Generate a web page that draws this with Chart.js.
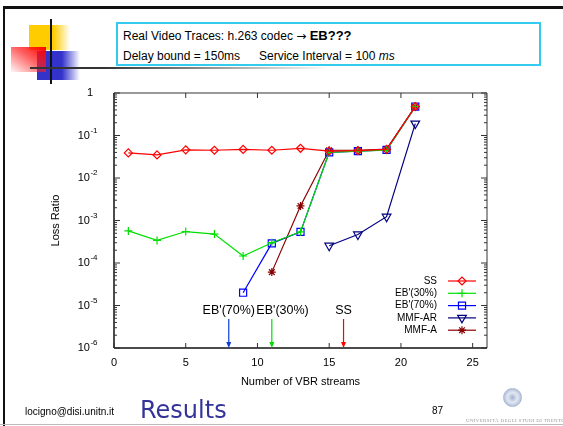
<!DOCTYPE html>
<html>
<head>
<meta charset="utf-8">
<script src="https://cdn.jsdelivr.net/npm/chart.js@4.4.1/dist/chart.umd.min.js"></script>
<style>
  body { margin: 0; background: #fff; }
  #slide { position: relative; width: 563px; height: 426px; overflow: hidden; font-family: "Liberation Sans", Arial, sans-serif; }
  #myChart { position: absolute; left: 0; top: 0; }
  .abs { position: absolute; }
  .txt { position: absolute; white-space: nowrap; color: #000; }
</style>
</head>
<body>
<div id="slide">
  <canvas id="myChart" width="563" height="426"></canvas>

  <!-- slide decoration -->
  <div class="abs" style="left:3px;top:6px;width:560px;height:3px;background:#111"></div>
  <div class="abs" style="left:3px;top:6px;width:2px;height:420px;background:#111"></div>
  <div class="abs" style="left:0;top:424px;width:563px;height:1px;background:#bbb"></div>
  <div class="abs" style="left:29px;top:25px;width:41px;height:25px;background:linear-gradient(to right,#ffcc00 0%,#ffcc00 60%,rgba(255,204,0,0) 100%)"></div>
  <div class="abs" style="left:37px;top:51px;width:43px;height:29px;background:linear-gradient(to right,#3333cc 0%,#3333cc 58%,rgba(51,51,204,0) 100%)"></div>
  <div class="abs" style="left:11px;top:47px;width:35px;height:25px;background:linear-gradient(to top right,rgba(255,0,0,0.03) 0%,rgba(255,30,30,0.7) 55%,#ff0000 100%)"></div>
  <div class="abs" style="left:50px;top:19px;width:2px;height:65px;background:#111"></div>
  <div class="abs" style="left:30px;top:67px;width:300px;height:2px;background:linear-gradient(to right,#333 0%,#333 25%,rgba(0,0,0,0) 100%)"></div>

  <!-- title box -->
  <div class="abs" style="left:116px;top:22px;width:425px;height:44px;box-sizing:border-box;border:2px solid #33ccee;background:#fff"></div>
  <div class="txt" style="left:123px;top:29px;font-size:12px;line-height:14px">Real Video Traces: h.263 codec <span style="font-family:'DejaVu Sans',sans-serif;font-size:12px">&rarr;</span> <b style="font-size:13px">EB???</b></div>
  <div class="txt" style="left:123px;top:49px;font-size:12px;line-height:14px">Delay bound = 150ms</div>
  <div class="txt" style="left:259px;top:49px;font-size:12px;line-height:14px">Service Interval = 100 <i>ms</i></div>

  <!-- footer -->
  <div class="txt" style="left:25px;top:406px;font-size:10px;line-height:11px">locigno@disi.unitn.it</div>
  <div class="txt" style="left:140px;top:398px;font-family:'DejaVu Sans',sans-serif;font-size:24px;line-height:24px;color:#333399">Results</div>
  <div class="txt" style="left:432px;top:405px;font-size:10px;line-height:11px">87</div>
  <div class="abs" style="left:503px;top:388px;width:19px;height:19px;box-sizing:border-box;border-radius:50%;border:1.5px solid #a6b5d2;background:radial-gradient(circle,#9fb0d0 0%,#e3e8f2 40%,#b8c5de 70%,#eef1f7 100%)"></div>
  <div class="txt" style="left:466px;top:418px;font-family:'Liberation Serif',serif;font-size:5px;line-height:6px;color:#999;letter-spacing:0.3px">UNIVERSITÀ DEGLI STUDI DI TRENTO</div>
</div>

<script>
// number of VBR streams (x)
var streams = [1, 3, 5, 7, 9, 11, 13, 15, 17, 19, 21];
// loss ratio per series, null = not measured
var ss    = [0.039, 0.035, 0.046, 0.045, 0.047, 0.045, 0.050, 0.043, 0.044, 0.047, 0.48];
var eb30  = [5.7e-4, 3.4e-4, 5.5e-4, 4.8e-4, 1.46e-4, 3.0e-4, 5.4e-4, 0.040, 0.043, 0.045, 0.48];
var eb70  = [null, null, null, null, 2.0e-5, 2.9e-4, 5.4e-4, 0.040, 0.043, 0.046, 0.48];
var mmfar = [null, null, null, null, null, null, null, 2.55e-4, 4.7e-4, 1.23e-3, 0.19];
var mmfa  = [null, null, null, null, null, 6.1e-5, 2.2e-3, 0.045, 0.045, 0.048, 0.48];

var xTicks = [0, 5, 10, 15, 20, 25];
var yExps = [-6, -5, -4, -3, -2, -1, 0];

// admission limits marked with arrows
var limitLabels = ["EB'(70%)", "EB'(30%)", "SS"];
var limitStreams = [8, 11, 16];
var limitLabelAt = [8, 11.75, 16];
var limitColors = ['#0a3cd8', '#00dd00', '#ff0000'];

function pts(vals) {
  var out = [];
  vals.forEach(function (v, i) { if (v !== null) out.push({ x: streams[i], y: v }); });
  return out;
}

function series(label, vals, color, style, radius, rot) {
  return {
    label: label,
    data: pts(vals),
    borderColor: color,
    backgroundColor: color,
    pointBackgroundColor: 'rgba(0,0,0,0)',
    pointBorderColor: color,
    pointStyle: style,
    pointRadius: radius,
    pointRotation: rot || 0,
    pointBorderWidth: 1.2,
    borderWidth: 1.2,
    tension: 0
  };
}

var datasets = [
  series('SS', ss, '#ff0000', 'rectRot', 4),
  series("EB'(30%)", eb30, '#00e000', 'cross', 4),
  series("EB'(70%)", eb70, '#0000ff', 'rect', 5),
  series('MMF-AR', mmfar, '#000080', 'triangle', 5, 180),
  series('MMF-A', mmfa, '#8b0000', 'star', 4)
];

var decor = {
  id: 'decor',
  afterDatasetsDraw: function (chart) {
    var ctx = chart.ctx, a = chart.chartArea, x = chart.scales.x, y = chart.scales.y;
    ctx.save();
    function seg(x1, y1, x2, y2) { ctx.beginPath(); ctx.moveTo(x1, y1); ctx.lineTo(x2, y2); ctx.stroke(); }

    // frame
    ctx.lineWidth = 1.5;
    ctx.strokeStyle = '#777';
    seg(a.left, a.top, a.right, a.top);
    seg(a.right, a.top, a.right, a.bottom);
    ctx.strokeStyle = '#111';
    seg(a.left, a.top, a.left, a.bottom);
    seg(a.left, a.bottom, a.right, a.bottom);

    // ticks
    ctx.lineWidth = 1;
    ctx.strokeStyle = '#333';
    xTicks.forEach(function (v) {
      var px = x.getPixelForValue(v);
      seg(px, a.bottom, px, a.bottom - 5);
      seg(px, a.top, px, a.top + 5);
    });
    yExps.forEach(function (e) {
      for (var m = 1; m < 10; m++) {
        if (e === 0 && m > 1) break;
        var py = y.getPixelForValue(m * Math.pow(10, e));
        var len = m === 1 ? 6 : 3;
        seg(a.left, py, a.left + len, py);
        seg(a.right, py, a.right - len, py);
      }
    });

    // tick labels
    ctx.fillStyle = '#000';
    ctx.font = '11px "Liberation Sans", Arial, sans-serif';
    ctx.textAlign = 'center';
    ctx.textBaseline = 'middle';
    xTicks.forEach(function (v) {
      ctx.fillText(String(v), x.getPixelForValue(v), a.bottom + 15);
    });
    yExps.forEach(function (e) {
      var py = y.getPixelForValue(Math.pow(10, e));
      if (e === 0) {
        ctx.font = '11px "Liberation Sans", Arial, sans-serif';
        ctx.textAlign = 'right';
        ctx.fillText('1', a.left - 21, py);
        return;
      }
      var sup = '-' + (-e);
      ctx.font = '11px "Liberation Sans", Arial, sans-serif';
      var wb = ctx.measureText('10').width;
      ctx.font = '8px "Liberation Sans", Arial, sans-serif';
      var ws = ctx.measureText(sup).width;
      var x0 = a.left - 17 - wb - ws;
      ctx.textAlign = 'left';
      ctx.font = '11px "Liberation Sans", Arial, sans-serif';
      ctx.fillText('10', x0, py);
      ctx.font = '8px "Liberation Sans", Arial, sans-serif';
      ctx.fillText(sup, x0 + wb + 0.5, py - 5);
    });

    // axis titles
    ctx.font = '11px "Liberation Sans", Arial, sans-serif';
    ctx.textAlign = 'center';
    ctx.fillText('Number of VBR streams', (a.left + a.right) / 2, a.bottom + 34);
    ctx.save();
    ctx.translate(a.left - 58, (a.top + a.bottom) / 2);
    ctx.rotate(-Math.PI / 2);
    ctx.fillText('Loss Ratio', 0, 0);
    ctx.restore();

    // admission limit arrows
    limitStreams.forEach(function (s, i) {
      var px = x.getPixelForValue(s);
      ctx.strokeStyle = limitColors[i];
      ctx.fillStyle = limitColors[i];
      ctx.lineWidth = 1.2;
      seg(px, a.bottom - 29, px, a.bottom - 3);
      ctx.beginPath();
      ctx.moveTo(px, a.bottom);
      ctx.lineTo(px - 2.5, a.bottom - 6);
      ctx.lineTo(px + 2.5, a.bottom - 6);
      ctx.closePath();
      ctx.fill();
      ctx.fillStyle = '#000';
      ctx.font = '12.5px "Liberation Sans", Arial, sans-serif';
      ctx.textAlign = 'center';
      ctx.fillText(limitLabels[i], x.getPixelForValue(limitLabelAt[i]), a.bottom - 37);
    });

    // legend
    chart.data.datasets.forEach(function (ds, i) {
      var ly = a.bottom - 67 + i * 12.3;
      ctx.fillStyle = '#000';
      ctx.font = '10px "Liberation Sans", Arial, sans-serif';
      ctx.textAlign = 'right';
      ctx.fillText(ds.label, a.right - 50, ly);
      ctx.strokeStyle = ds.borderColor;
      ctx.lineWidth = 1.2;
      seg(a.right - 39, ly, a.right - 11, ly);
      ctx.fillStyle = 'rgba(0,0,0,0)';
      Chart.helpers.drawPoint(ctx, {
        pointStyle: ds.pointStyle,
        radius: ds.pointRadius,
        rotation: ds.pointRotation,
        borderWidth: 1.2
      }, a.right - 25, ly);
    });
    ctx.restore();
  }
};

var ctx = document.getElementById('myChart').getContext('2d');
var myChart = new Chart(ctx, {
  type: 'line',
  data: { datasets: datasets },
  options: {
    responsive: false,
    animation: false,
    devicePixelRatio: 1,
    layout: { padding: { left: 54, right: 76, top: 93, bottom: 30 } },
    plugins: { legend: { display: false }, tooltip: { enabled: false } },
    scales: {
      x: {
        type: 'linear',
        min: 0,
        max: 26,
        grid: { display: false },
        border: { display: false },
        ticks: { display: false },
        afterFit: function (s) { s.height = 48; }
      },
      y: {
        type: 'logarithmic',
        min: 1e-6,
        max: 1,
        grid: { display: false },
        border: { display: false },
        ticks: { display: false },
        afterFit: function (s) { s.width = 60; }
      }
    }
  },
  plugins: [decor]
});
</script>
</body>
</html>
